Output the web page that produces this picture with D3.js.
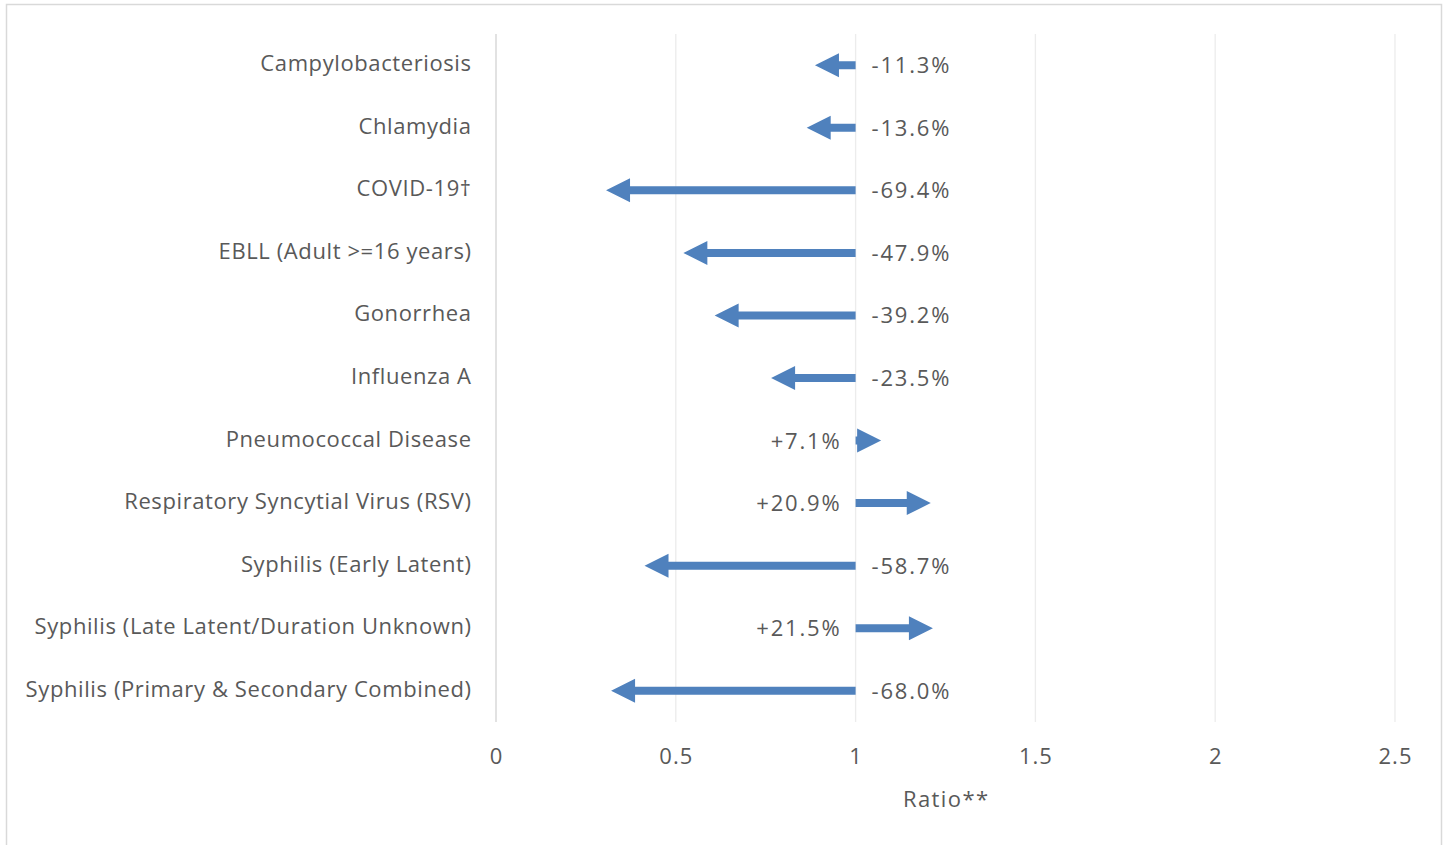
<!DOCTYPE html>
<html><head><meta charset="utf-8">
<script src="https://cdn.jsdelivr.net/npm/d3@7"></script>
<style>
html,body{margin:0;padding:0;background:#fff;}
svg{display:block;}
text{font-family:"Open Sans",sans-serif;fill:#595959;}
</style></head>
<body>
<svg id="c" width="1445" height="845"></svg>
<script>
const categories = ["Campylobacteriosis","Chlamydia","COVID-19\u2020","EBLL (Adult >=16 years)","Gonorrhea","Influenza A","Pneumococcal Disease","Respiratory Syncytial Virus (RSV)","Syphilis (Early Latent)","Syphilis (Late Latent/Duration Unknown)","Syphilis (Primary & Secondary Combined)"];
const pctChange = [-11.3,-13.6,-69.4,-47.9,-39.2,-23.5,7.1,20.9,-58.7,21.5,-68.0];
const xTicks = [0,0.5,1,1.5,2,2.5];
const xTickLabels = ["0","0.5","1","1.5","2","2.5"];
const axisTitle = "Ratio**";

const svg = d3.select("#c");
const fs = 22;
svg.append("rect").attr("x",6.5).attr("y",4.5).attr("width",1435).attr("height",860)
  .attr("fill","#fff").attr("stroke","#d9d9d9").attr("stroke-width",1.5);

const x = d3.scaleLinear().domain([0,2.5]).range([496,1395]);
const y = d3.scaleBand().domain(categories).range([34,722]);

// gridlines
svg.append("g").selectAll("line").data(xTicks.slice(1)).join("line")
  .attr("x1",d=>x(d)).attr("x2",d=>x(d)).attr("y1",34).attr("y2",722)
  .attr("stroke","#ececec").attr("stroke-width",1.3);
svg.append("line").attr("x1",x(0)).attr("x2",x(0)).attr("y1",34).attr("y2",722)
  .attr("stroke","#d9d9d9").attr("stroke-width",1.5);

// tick labels
svg.append("g").selectAll("text").data(xTicks).join("text")
  .attr("x",d=>x(d)+0.5).attr("y",764).attr("text-anchor","middle")
  .attr("font-size",fs).attr("letter-spacing",1).text((d,i)=>xTickLabels[i]);
svg.append("text").attr("x",(x(0)+x(2.5))/2+0.7).attr("y",807).attr("text-anchor","middle")
  .attr("font-size",fs).attr("letter-spacing",1.4).text(axisTitle);

// category labels
svg.append("g").selectAll("text").data(categories).join("text")
  .attr("x",471.6).attr("y",d=>y(d)+y.bandwidth()/2+6).attr("text-anchor","end")
  .attr("font-size",fs).attr("letter-spacing",0.6).text(d=>d);

// arrows
const shaft = 8, headW = 24, headL = 24;
const color = "#4f81bd";
const g = svg.append("g");
categories.forEach((c,i)=>{
  const r = 1 + pctChange[i]/100;
  const x0 = x(1), x1 = x(r);
  const dir = x1 < x0 ? -1 : 1;
  const cy = y(c) + y.bandwidth()/2;
  const len = Math.abs(x1-x0);
  const hl = Math.min(headL, len);
  const xb = x1 - dir*hl;
  const p = d3.path();
  p.moveTo(x0, cy-shaft/2);
  p.lineTo(xb, cy-shaft/2);
  p.lineTo(xb, cy-headW/2);
  p.lineTo(x1, cy);
  p.lineTo(xb, cy+headW/2);
  p.lineTo(xb, cy+shaft/2);
  p.lineTo(x0, cy+shaft/2);
  p.closePath();
  g.append("path").attr("d",p.toString()).attr("fill",color);
  const lbl = (pctChange[i]>0?"+":"") + pctChange[i].toFixed(1) + "%";
  svg.append("text").attr("x", dir<0 ? x0+16 : x0-14.2).attr("y",cy+8)
    .attr("text-anchor", dir<0 ? "start" : "end").attr("font-size",fs)
    .attr("letter-spacing",1.8).text(lbl);
});
</script>
</body></html>
